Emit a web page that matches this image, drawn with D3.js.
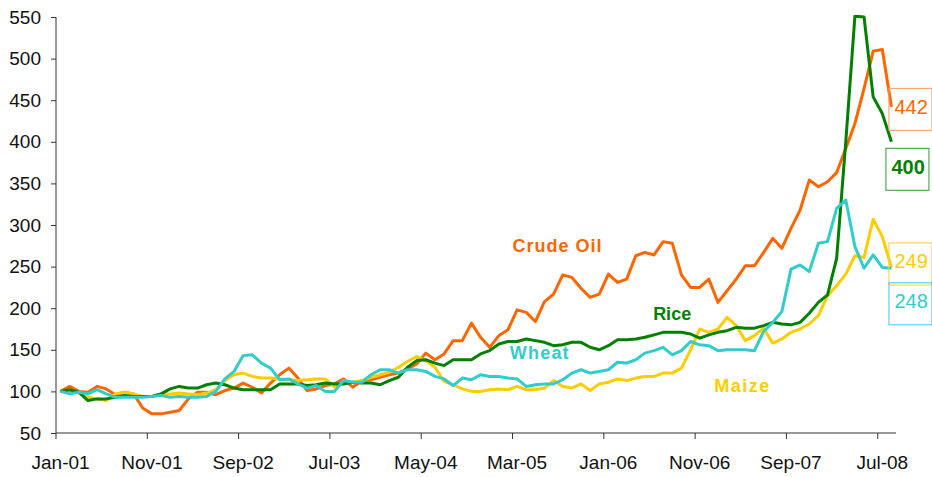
<!DOCTYPE html>
<html lang="en">
<head>
    <meta charset="UTF-8">
    <title>Commodity price index</title>
    <script src="https://d3js.org/d3.v7.min.js"></script>
    <style>
        body { margin: 0; background: #fff; }
        svg { display: block; font-family: "Liberation Sans", Arial, sans-serif; }
    </style>
</head>
<body>
    <svg id="chart" width="932" height="477"></svg>
    <script>
        // months Jan-01 .. Aug-08, index Jan-01 = 100
        const months = d3.timeMonths(new Date(2001, 0, 1), new Date(2008, 8, 1));
        const tickEvery = 10;
        const yTicks = [50, 100, 150, 200, 250, 300, 350, 400, 450, 500, 550];

        const crudeOil = [100, 106, 100, 99, 106, 103, 96, 99, 97, 80, 73, 73, 75, 77, 91, 99,
            99, 96, 101, 104, 110, 105, 98, 110, 120, 128, 116, 101, 103, 107, 109, 115,
            105, 113, 114, 117, 120, 122, 127, 133, 146, 138, 145, 161, 161, 182, 165, 153,
            167, 174, 198, 195, 184, 208, 217, 240, 237, 224, 213, 217, 241, 231, 235, 263,
            267, 264, 280, 278, 240, 225, 225, 235, 207, 221, 235, 251, 251, 267, 284, 272,
            296, 318, 354, 346, 352, 363, 392, 422, 464, 509, 511, 442];

        const rice = [100, 102, 99, 89, 91, 91, 93, 95, 94, 94, 94, 97, 103, 106, 104, 104,
            108, 110, 108, 104, 102, 102, 102, 102, 109, 109, 109, 107, 108, 110, 109, 109,
            111, 110, 110, 108, 113, 117, 129, 137, 138, 134, 131, 138, 138, 138, 145, 149,
            157, 160, 160, 163, 161, 159, 155, 156, 159, 159, 153, 150, 155, 162, 162, 163,
            165, 168, 171, 171, 171, 169, 164, 168, 171, 173, 177, 176, 176, 179, 183, 181,
            180, 183, 194, 207, 216, 260, 400, 551, 550, 454, 434, 400];

        const wheat = [100, 97, 99, 97, 102, 97, 93, 93, 93, 93, 94, 95, 93, 94, 93, 93,
            94, 100, 115, 124, 143, 144, 134, 128, 114, 115, 109, 104, 107, 100, 100, 113,
            111, 111, 120, 126, 126, 122, 126, 126, 124, 118, 115, 107, 116, 114, 120, 118,
            118, 116, 115, 106, 108, 109, 109, 114, 122, 126, 122, 124, 126, 135, 134, 138,
            146, 149, 153, 144, 149, 160, 156, 155, 149, 150, 150, 150, 149, 172, 183, 196,
            247, 252, 244, 278, 280, 320, 330, 274, 248, 264, 249, 248];

        const maize = [100, 100, 98, 93, 91, 89, 97, 99, 97, 94, 94, 97, 97, 98, 97, 96,
            98, 102, 113, 120, 122, 118, 116, 116, 115, 114, 113, 114, 115, 115, 105, 111,
            111, 113, 117, 120, 123, 129, 136, 142, 137, 129, 112, 108, 103, 100, 100, 102,
            103, 102, 106, 102, 102, 104, 113, 106, 104, 109, 101, 109, 111, 115, 113, 116,
            118, 118, 122, 122, 128, 150, 175, 171, 175, 189, 179, 161, 167, 176, 158, 163,
            171, 175, 181, 191, 215, 227, 241, 263, 261, 307, 286, 249];

        // drawing order: last one on top
        const series = [
            {name: "Crude Oil", values: crudeOil, color: "#FF6600", border: "#FF9966", bold: false,
             label: {i: 49.5, v: 267.5, spacing: 1}, box: {dx: -3, dy: -19}},
            {name: "Maize", values: maize, color: "#FFCC00", border: "#FFCC33", bold: false,
             label: {i: 71.6, v: 99, spacing: 1.5}, box: {dx: -3, dy: -25}},
            {name: "Rice", values: rice, color: "#008000", border: "#339933", bold: true,
             label: {i: 64.9, v: 186, spacing: 0}, box: {dx: -6, dy: 6}},
            {name: "Wheat", values: wheat, color: "#33CCCC", border: "#33CCFF", bold: false,
             label: {i: 49.2, v: 139, spacing: 1.2}, box: {dx: -3, dy: 14}}
        ];

        const svg = d3.select("#chart");
        const margin = {top: 17, right: 36, bottom: 44, left: 56};
        const width = 932, height = 477;

        const x = d3.scaleBand()
            .domain(months)
            .range([margin.left, width - margin.right])
            .paddingInner(0).paddingOuter(0);
        const y = d3.scaleLinear()
            .domain([50, 550])
            .range([height - margin.bottom, margin.top]);

        // centre of a (possibly fractional) category index
        const xPos = i => x.range()[0] + (i + 0.5) * x.step();

        // y axis
        const yAxis = svg.append("g")
            .attr("transform", `translate(${margin.left},0)`)
            .call(d3.axisLeft(y).tickValues(yTicks).tickSize(5).tickPadding(10));
        yAxis.select(".domain").attr("stroke", "#333").attr("d", `M0,${y(550)}V${y(50)}`);
        yAxis.selectAll(".tick line").attr("stroke", "#333");
        yAxis.selectAll("text").style("font-size", "19px").attr("fill", "#111");

        // x axis: labels centred on categories, tick marks on category edges
        const labelled = months.filter((d, i) => i % tickEvery === 0);
        const fmt = d3.timeFormat("%b-%y");
        const xAxis = svg.append("g")
            .attr("transform", `translate(0,${y(50)})`)
            .call(d3.axisBottom(x).tickValues(labelled).tickFormat(fmt).tickSize(0).tickPadding(23));
        xAxis.select(".domain").attr("stroke", "#333").attr("d", `M${x.range()[0]},0H${x.range()[1]}`);
        xAxis.selectAll("text").style("font-size", "19px").attr("fill", "#111");
        xAxis.selectAll(".edge")
            .data(labelled)
            .enter().append("line")
            .attr("class", "edge")
            .attr("x1", d => x(d)).attr("x2", d => x(d))
            .attr("y1", 0).attr("y2", 6)
            .attr("stroke", "#333");

        // lines
        svg.append("clipPath").attr("id", "plot-clip")
            .append("rect")
            .attr("x", margin.left).attr("y", margin.top - 2)
            .attr("width", width - margin.left).attr("height", y(50) - margin.top + 2);

        const line = d3.line()
            .x((d, i) => xPos(i))
            .y(d => y(d));

        svg.append("g").attr("clip-path", "url(#plot-clip)")
            .selectAll("path")
            .data(series)
            .enter().append("path")
            .attr("fill", "none")
            .attr("stroke", d => d.color)
            .attr("stroke-width", 3)
            .attr("stroke-linejoin", "round")
            .attr("d", d => line(d.values));

        // series names
        svg.selectAll(".series-name")
            .data(series)
            .enter().append("text")
            .attr("class", "series-name")
            .attr("x", d => xPos(d.label.i))
            .attr("y", d => y(d.label.v))
            .attr("fill", d => d.color)
            .style("font-size", "18px")
            .style("font-weight", "bold")
            .style("letter-spacing", d => d.label.spacing + "px")
            .text(d => d.name);

        // boxed end values
        const last = series[0].values.length - 1;
        const boxes = svg.selectAll(".end-label")
            .data(series)
            .enter().append("g")
            .attr("class", "end-label")
            .attr("transform", d => `translate(${xPos(last) + d.box.dx},${y(d.values[last]) + d.box.dy})`);
        boxes.append("rect")
            .attr("x", 0.5).attr("y", 0.5)
            .attr("width", 43).attr("height", 42)
            .attr("fill", "none")
            .attr("stroke", d => d.border)
            .attr("stroke-width", 1);
        boxes.append("text")
            .attr("x", 6).attr("y", 26)
            .attr("fill", d => d.color)
            .style("font-size", "20px")
            .style("font-weight", d => d.bold ? "bold" : "normal")
            .text(d => d.values[last]);
    </script>
</body>
</html>
